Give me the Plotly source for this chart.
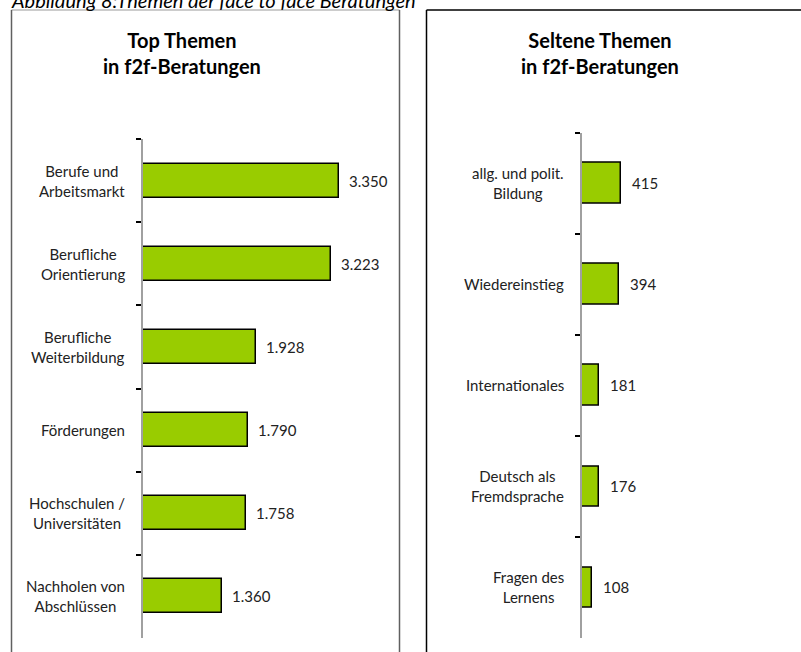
import plotly.graph_objects as go

# ---- data ----
top_categories = ["Berufe und<br>Arbeitsmarkt", "Berufliche<br>Orientierung", "Berufliche<br>Weiterbildung",
                  "Förderungen", "Hochschulen /<br>Universitäten", "Nachholen von<br>Abschlüssen"]
top_values = [3350, 3223, 1928, 1790, 1758, 1360]
rare_categories = ["allg. und polit.<br>Bildung", "Wiedereinstieg", "Internationales",
                   "Deutsch als<br>Fremdsprache", "Fragen des<br>Lernens"]
rare_values = [415, 394, 181, 176, 108]
caption = "Abbildung 8:Themen der face to face Beratungen"
title_left = "Top Themen<br>in f2f-Beratungen"
title_right = "Seltene Themen<br>in f2f-Beratungen"

W, H = 801, 652
def px(x): return x / W
def py(y): return 1 - y / H

FONT = "Lato"
GREEN = "#99CC00"

def fmt(v):
    return f"{v:,}".replace(",", ".")

fig = go.Figure()
fig.add_trace(go.Bar(x=top_values, y=top_categories, orientation="h", width=0.41,
                     marker=dict(color=GREEN, line=dict(color="black", width=1.5)),
                     xaxis="x", yaxis="y", hoverinfo="skip"))
fig.add_trace(go.Bar(x=rare_values, y=rare_categories, orientation="h", width=0.40,
                     marker=dict(color=GREEN, line=dict(color="black", width=1.5)),
                     xaxis="x2", yaxis="y2", hoverinfo="skip"))

ann = []
for c, v in zip(top_categories, top_values):
    ann.append(dict(x=v, y=c, xref="x", yref="y", text=fmt(v), showarrow=False,
                    xanchor="left", xshift=8, font=dict(family=FONT, size=15, color="#222")))
    ann.append(dict(x=px(127), y=c, xref="paper", yref="y", text=c, showarrow=False,
                    xanchor="right", align="center", font=dict(family=FONT, size=15, color="#222")))
for c, v in zip(rare_categories, rare_values):
    ann.append(dict(x=v, y=c, xref="x2", yref="y2", text=fmt(v), showarrow=False,
                    xanchor="left", xshift=9, font=dict(family=FONT, size=15, color="#222")))
    ann.append(dict(x=px(566), y=c, xref="paper", yref="y2", text=c, showarrow=False,
                    xanchor="right", align="center", font=dict(family=FONT, size=15, color="#222")))

ann.append(dict(x=px(182), y=py(26), xref="paper", yref="paper", text=title_left, showarrow=False,
                xanchor="center", yanchor="top", align="center",
                font=dict(family=FONT, size=20, color="black", weight="bold")))
ann.append(dict(x=px(600), y=py(26), xref="paper", yref="paper", text=title_right, showarrow=False,
                xanchor="center", yanchor="top", align="center",
                font=dict(family=FONT, size=20, color="black", weight="bold")))
ann.append(dict(x=px(9), y=py(14), xref="paper", yref="paper", text=caption, showarrow=False,
                xanchor="left", yanchor="bottom", align="left",
                font=dict(family=FONT, size=20, color="black", style="italic")))

shapes = [
    dict(type="line", xref="paper", yref="paper", x0=px(11.5), x1=px(399.5), y0=py(10), y1=py(10),
         line=dict(color="#BBBBBB", width=1.5)),
    dict(type="line", xref="paper", yref="paper", x0=px(11.5), x1=px(11.5), y0=py(10), y1=-0.1,
         line=dict(color="#606060", width=1.5)),
    dict(type="line", xref="paper", yref="paper", x0=px(399.5), x1=px(399.5), y0=py(10), y1=-0.1,
         line=dict(color="#606060", width=1.5)),
    dict(type="line", xref="paper", yref="paper", x0=px(426.5), x1=1.1, y0=py(10), y1=py(10),
         line=dict(color="black", width=1.5)),
    dict(type="line", xref="paper", yref="paper", x0=px(426.5), x1=px(426.5), y0=py(10), y1=-0.1,
         line=dict(color="black", width=1.5)),
]

yax = dict(showline=True, linecolor="#A0A0A0", linewidth=1.5, ticks="outside", tickson="boundaries",
           ticklen=5, tickcolor="black", tickwidth=1.5, showticklabels=False, showgrid=False,
           autorange="reversed", zeroline=False, fixedrange=True)

fig.update_layout(
    width=W, height=H, margin=dict(l=0, r=0, t=0, b=0),
    paper_bgcolor="white", plot_bgcolor="white", showlegend=False, bargap=0,
    xaxis=dict(domain=[px(143), px(390)], range=[0, 247 / 0.0584], visible=False, anchor="y"),
    yaxis=dict(domain=[py(638), py(139)], anchor="x", **yax),
    xaxis2=dict(domain=[px(582), px(780)], range=[0, 198 / 0.094], visible=False, anchor="y2"),
    yaxis2=dict(domain=[py(638), py(132.7)], anchor="x2", **yax),
    annotations=ann, shapes=shapes,
)

fig.write_html("out.html", config={"displayModeBar": False},
               post_script="document.body.style.margin='0';document.body.style.overflow='hidden';")
